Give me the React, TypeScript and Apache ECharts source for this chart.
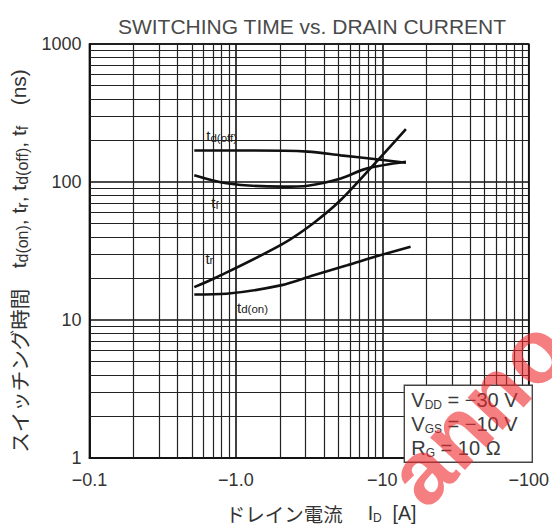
import React, { useEffect, useRef } from "react";
import * as echarts from "echarts";

// ---- text ----
const TITLE = "SWITCHING TIME vs. DRAIN CURRENT";
const X_NAME = "{j|ドレイン電流　}{m| I}{s|D}{m|  [A]}";
const Y_NAME = "{j|スイッチング時間　}{m|t}{s|d(on)}{m|, t}{s|r}{m|, t}{s|d(off)}{m|, t}{s|f}{j|　}{m|(ns)}";

// ---- axes (|ID| in A, time in ns) ----
const X_MIN = 0.1;
const X_MAX = 100;
const Y_MIN = 1;
const Y_MAX = 1000;
const X_DECADES = [0.1, 1, 10];
const Y_DECADES = [1, 10, 100];
const GRID_MULTIPLIERS = [2, 3, 4, 5, 6, 7, 8, 9];

// ---- series: drain current ID (A, negative) and time (ns) ----
const tdOffCurrent = [-0.52, -1.3, -3.1, -5.2, -9.1, -14.5];
const tdOffTime = [169, 169, 166, 156, 146, 138];

const tfCurrent = [-0.52, -0.86, -2.06, -3.1, -5.2, -7.8, -14.5];
const tfTime = [112, 98, 92.5, 94, 106, 125, 140];

const trCurrent = [-0.52, -0.74, -2.06, -3.4, -5.2, -9.1, -14.5];
const trTime = [17.3, 20.4, 35.3, 50.5, 74, 140, 242];

const tdOnCurrent = [-0.52, -0.86, -2.06, -3.4, -5.75, -9.5, -15.6];
const tdOnTime = [15.3, 15.5, 17.9, 21.1, 24.9, 29.3, 34];

// ---- curve labels: text and anchor [ID (A), time (ns)] ----
const CURVE_LABELS = ["{t|t}{s|d(off)}", "{t|t}{s|f}", "{t|t}{s|r}", "{t|t}{s|d(on)}"];
const CURVE_LABEL_CURRENT = [-0.8, -0.72, -0.66, -1.3];
const CURVE_LABEL_TIME = [216, 71, 28, 12.4];

// ---- conditions ----
const CONDITIONS = ["V{s|DD} = −30 V", "V{s|GS} = −10 V", "R{s|G} = 10 Ω"];

const FONT = "'Liberation Sans', Arial, sans-serif";
const CJK = "'Noto Sans CJK JP', 'Liberation Sans', sans-serif";
const INK = "#111";
const TXT = "#333";

const toPts = (xs: number[], ys: number[]) => xs.map((x, i) => [Math.abs(x), ys[i]]);

function curve(name: string, xs: number[], ys: number[]) {
  return {
    name,
    type: "line",
    data: toPts(xs, ys),
    smooth: 0.3,
    symbol: "none",
    z: 5,
    color: INK,
    lineStyle: { color: INK, width: 2.6 },
    silent: true,
  };
}

export default function App() {
  const ref = useRef<HTMLDivElement>(null);

  useEffect(() => {
    if (!ref.current) return;
    const chart = echarts.init(ref.current, null, { renderer: "svg" });

    const xMinor: any[] = [];
    X_DECADES.forEach((d) => GRID_MULTIPLIERS.forEach((m) => xMinor.push({ xAxis: +(d * m).toPrecision(3) })));
    const yMinor: any[] = [];
    Y_DECADES.forEach((d) => GRID_MULTIPLIERS.forEach((m) => yMinor.push({ yAxis: +(d * m).toPrecision(3) })));

    const option: any = {
      animation: false,
      backgroundColor: "#fff",
      title: {
        text: TITLE,
        left: 307,
        top: 11,
        textAlign: "center",
        textStyle: {
          fontFamily: FONT,
          fontWeight: "normal",
          fontSize: 21,
          color: "#4a4a4a",
        },
      },
      grid: {
        left: 83,
        right: 19,
        top: 44,
        bottom: 66,
        show: true,
        borderColor: INK,
        borderWidth: 1.6,
        backgroundColor: "#fff",
      },
      xAxis: {
        type: "log",
        logBase: 10,
        min: X_MIN,
        max: X_MAX,
        name: X_NAME,
        nameLocation: "middle",
        nameGap: 44,
        nameTextStyle: {
          padding: [0, 0, 0, 24],
          rich: {
            j: { fontFamily: CJK, fontSize: 19.5, color: TXT },
            m: { fontFamily: FONT, fontSize: 19.5, color: TXT },
            s: { fontFamily: FONT, fontSize: 12, color: TXT, verticalAlign: "bottom", lineHeight: 22 },
          },
        },
        axisLine: { show: true, lineStyle: { color: INK, width: 1.6 } },
        axisTick: { show: false },
        axisLabel: {
          margin: 13,
          fontFamily: FONT,
          fontSize: 18,
          color: TXT,
          formatter: (v: number) => (v === 1 ? "−1.0" : "−" + v),
        },
        splitLine: { show: true, lineStyle: { color: INK, width: 1.6 } },
        minorTick: { show: false },
        minorSplitLine: { show: false },
      },
      yAxis: {
        type: "log",
        logBase: 10,
        min: Y_MIN,
        max: Y_MAX,
        name: Y_NAME,
        nameLocation: "middle",
        nameRotate: 90,
        nameGap: 52,
        nameTextStyle: {
          padding: [0, 20, 0, 0],
          rich: {
            j: { fontFamily: CJK, fontSize: 20.5, color: TXT },
            m: { fontFamily: FONT, fontSize: 21, color: TXT },
            s: { fontFamily: FONT, fontSize: 16, color: TXT, verticalAlign: "bottom", lineHeight: 24 },
          },
        },
        axisLine: { show: true, lineStyle: { color: INK, width: 1.6 } },
        axisTick: { show: false },
        axisLabel: {
          margin: 8,
          fontFamily: FONT,
          fontSize: 18,
          color: TXT,
          formatter: (v: number) => String(v),
        },
        splitLine: { show: true, lineStyle: { color: INK, width: 1.6 } },
        minorTick: { show: false },
        minorSplitLine: { show: false },
      },
      series: [
        {
          name: "grid",
          type: "line",
          data: [],
          silent: true,
          z: 1,
          markLine: {
            silent: true,
            symbol: ["none", "none"],
            label: { show: false },
            lineStyle: { color: "#222", width: 1.2, type: "solid" },
            emphasis: { disabled: true },
            data: [...xMinor, ...yMinor],
          },
        },
        curve("td(off)", tdOffCurrent, tdOffTime),
        curve("tf", tfCurrent, tfTime),
        curve("tr", trCurrent, trTime),
        curve("td(on)", tdOnCurrent, tdOnTime),
      ],
      graphic: [
        {
          id: "conditions",
          type: "group",
          right: 19,
          bottom: 66,
          z: 50,
          children: [
            {
              type: "rect",
              shape: { x: 0, y: 0, width: 128, height: 77 },
              style: { fill: "#fff", stroke: "#444", lineWidth: 1.4 },
              z: 50,
            },
            ...CONDITIONS.map((c, i) => ({
              type: "text",
              x: 7,
              y: 15 + i * 24,
              z: 51,
              style: {
                text: c,
                fontFamily: FONT,
                fontSize: 20,
                fill: "#3a3a3a",
                verticalAlign: "middle",
                rich: {
                  s: { fontFamily: FONT, fontSize: 12, fill: "#3a3a3a", verticalAlign: "bottom", lineHeight: 22 },
                },
              },
            })),
          ],
        },
        {
          id: "watermark",
          type: "text",
          x: 404,
          y: 490,
          rotation: 0.82,
          z: 100,
          silent: true,
          style: {
            text: "anno",
            fontFamily: FONT,
            fontWeight: "bold",
            fontSize: 90,
            fill: "rgba(238,40,45,0.6)",
            verticalAlign: "middle",
            align: "left",
          },
        },
      ],
    };

    chart.setOption(option);

    const labels = CURVE_LABELS.map((txt, i) => {
      const p = chart.convertToPixel({ gridIndex: 0 }, [
        Math.abs(CURVE_LABEL_CURRENT[i]),
        CURVE_LABEL_TIME[i],
      ]) as number[];
      return {
        id: "curve-label-" + i,
        type: "text",
        x: p[0],
        y: p[1],
        z: 20,
        silent: true,
        style: {
          text: txt,
          align: "center",
          verticalAlign: "middle",
          fill: "#222",
          rich: {
            t: { fontSize: 15, fontFamily: FONT, fill: "#222", lineHeight: 16 },
            s: { fontSize: 11.5, fontFamily: FONT, fill: "#222", verticalAlign: "bottom", lineHeight: 16 },
          },
        },
      };
    });
    chart.setOption({ graphic: labels });

    return () => chart.dispose();
  }, []);

  return (
    <div
      ref={ref}
      style={{ position: "fixed", left: 0, top: 0, width: 552, height: 529, background: "#fff" }}
    />
  );
}
